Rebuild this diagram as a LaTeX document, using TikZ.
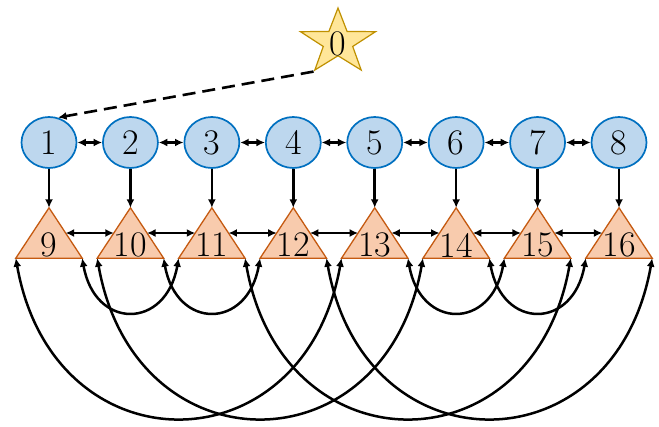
\documentclass[tikz,border=0pt]{standalone}
\usepackage{fontspec}
\usetikzlibrary{shapes.geometric,arrows.meta,calc}
\definecolor{cfill}{HTML}{BDD7EE}
\definecolor{cline}{HTML}{0070C0}
\definecolor{tfill}{HTML}{F8CBAD}
\definecolor{tline}{HTML}{C55A11}
\definecolor{sfill}{HTML}{FFE699}
\definecolor{sline}{HTML}{BF9000}
\begin{document}
\begin{tikzpicture}[x=1pt,y=1pt,
  bigfont/.style={font=\fontsize{36}{36}\selectfont},
  cnode/.style={ellipse,draw=cline,fill=cfill,line width=1.7pt,minimum width=55pt,minimum height=51pt,inner sep=0pt,bigfont},
  tnode/.style={rectangle,minimum width=66pt,minimum height=50pt,inner sep=0pt},
  tshape/.style={fill=tfill,draw=tline,line width=1.3pt,line join=miter},
  tlab/.style={inner sep=0pt,bigfont},
  dbl/.style={line width=2.5pt,{Latex[length=8.5pt,width=8pt]}-{Latex[length=8.5pt,width=8pt]}},
  sgl/.style={line width=2.5pt,-{Latex[length=8.5pt,width=8pt]}},
  arcsmall/.style={dbl,out=-80,in=-100,looseness=1.94},
  arcbig/.style={dbl,out=-80,in=-100,looseness=1.70}
]
\useasboundingbox (0,0) rectangle (659,426);

% star
\begin{scope}[shift={(338,383.7)},xscale=1.15]
  \node[star,star points=5,star point ratio=2.55,minimum size=68.6pt,inner sep=0pt,
        draw=sline,fill=sfill,line width=1.2pt,transform shape] (s0) at (0,0) {};
\end{scope}
\node[tlab] (l0) at (338,382) {0};

% circles and triangles
\foreach \i [evaluate=\i as \xx using 49+81.43*(\i-1), evaluate=\i as \j using int(\i+8)] in {1,...,8} {
  \node[cnode] (c\i) at (\xx,283.5) {\i};
  \node[tnode] (t\j) at (\xx,193) {};
  \filldraw[tshape] (t\j.south west) -- (t\j.south east) -- (t\j.north) -- cycle;
  \node[tlab] (l\j) at (\xx,181) {\j};
  \draw[sgl] (c\i.south) -- (t\j.north);
}

% dashed arrow
\draw[line width=2.6pt,dash pattern=on 13pt off 7pt,-{Latex[length=8.5pt,width=8pt]}] (s0.outer point 3) -- (c1.70);

% horizontal double arrows
\foreach \a/\b in {1/2,2/3,3/4,4/5,5/6,6/7,7/8} {
  \draw[dbl] (c\a.east) -- (c\b.west);
}
\foreach \a/\b in {9/10,10/11,11/12,12/13,13/14,14/15,15/16} {
  \draw[dbl] ($(t\a.north)!0.5!(t\a.south east)$) -- ($(t\b.north)!0.5!(t\b.south west)$);
}

% small arcs
\draw[arcsmall] (t9.south east) to (t11.south west);
\draw[arcsmall] (t10.south east) to (t12.south west);
\draw[arcsmall] (t13.south east) to (t15.south west);
\draw[arcsmall] (t14.south east) to (t16.south west);

% big arcs
\draw[arcbig] (t9.south west) to (t13.south west);
\draw[arcbig] (t10.south west) to (t14.south west);
\draw[arcbig] (t11.south east) to (t15.south east);
\draw[arcbig] (t12.south east) to (t16.south east);
\end{tikzpicture}
\end{document}
